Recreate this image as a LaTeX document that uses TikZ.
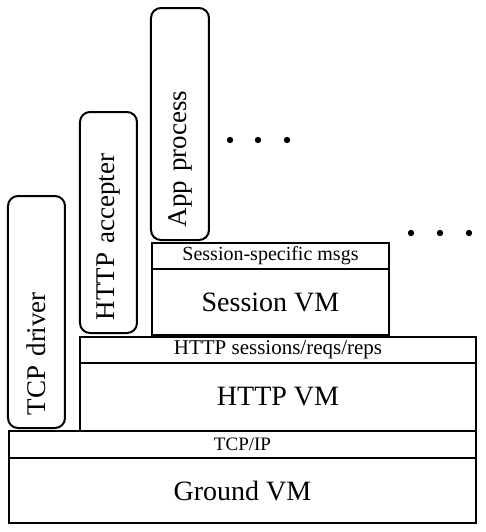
\documentclass[tikz,border=0pt]{standalone}
\usepackage{fontspec}
\setmainfont{Liberation Serif}
\usepackage{tikz}
\usetikzlibrary{positioning, shapes, arrows.meta}
\tikzset{
    layer/.style = {rectangle, draw, line width=1pt, anchor=north west, inner sep=0pt,
                        font=\fontsize{14}{16}\selectfont, align=center},
    strip/.style = {layer, font=\fontsize{9.5}{11}\selectfont},
    process/.style = {rectangle, draw, line width=1pt, rounded corners=5pt, rotate=90,
                        inner xsep=6.5pt, inner ysep=0pt, minimum height=28.5pt, align=left,
                        font=\fontsize{13.5}{15}\selectfont}
}
\begin{document}
\begin{tikzpicture}[x=0.5pt, y=-0.5pt]
		\useasboundingbox (0,0) rectangle (486,532);
		\node (ground) [layer, minimum width=233.5pt, minimum height=32.5pt] at (8,457) {Ground VM};
		\node (tcpip) [strip, minimum width=233.5pt, minimum height=13.5pt] at (8,430) {TCP/IP};
		\node (httpvm) [layer, minimum width=198pt, minimum height=34pt] at (79,362) {HTTP VM};
		\node (httpmsg) [strip, minimum width=198pt, minimum height=13pt,
			font=\fontsize{10.5}{12}\selectfont] at (79,336) {HTTP sessions/reqs/reps};
		\node (sessvm) [layer, minimum width=118.5pt, minimum height=33pt] at (151,268) {Session VM};
		\node (sessmsg) [strip, minimum width=118.5pt, minimum height=13pt,
			font=\fontsize{10}{12}\selectfont] at (151,242) {Session-specific msgs};
		% processes standing on the layers
		\node (tcpdrv) [process, text width=103pt] at (36.5,312) {TCP driver};
		\node (accept) [process, text width=97.5pt] at (108.5,222.5) {HTTP accepter};
		\node (app) [process, text width=103pt, minimum height=29pt] at (180,124) {App process};
		\foreach \x in {230,258,287} \fill (\x,140) circle (1.6pt);
		\foreach \x in {411,440,469} \fill (\x,233) circle (1.6pt);
	\end{tikzpicture}
\end{document}
